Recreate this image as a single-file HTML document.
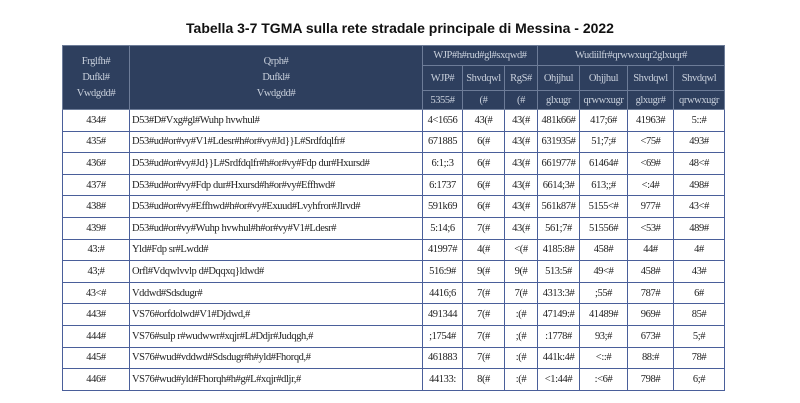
<!DOCTYPE html>
<html><head><meta charset="utf-8"><style>
body{margin:0;width:800px;height:403px;background:#fff;position:relative;overflow:hidden;font-family:"Liberation Serif",serif}
.t{position:absolute;left:0;width:800px;top:20px;text-align:center;font:bold 14px "Liberation Sans",sans-serif;color:#111}
table{position:absolute;left:62px;top:45px;border-collapse:collapse;table-layout:fixed;font-size:10.5px;letter-spacing:-0.4px}
td,th{border:1px solid #4a5f9a;padding:0 2px;overflow:hidden;white-space:nowrap;box-sizing:border-box}
td{height:21.6px}
th{background:#2e3f5e;color:#c9d0dc;font-weight:normal;border-color:#6d7c98}
tr.h1 th{height:20px}
tr.h2 th{height:25px}
tr.h3 th{height:19px}
td{color:#222;text-align:center}
td.l{text-align:left}
</style></head><body>
<div class="t">Tabella 3-7 TGMA sulla rete stradale principale di Messina - 2022</div>
<table>
<colgroup><col style="width:67px"><col style="width:293px"><col style="width:40px"><col style="width:42px"><col style="width:33px"><col style="width:42px"><col style="width:48px"><col style="width:46px"><col style="width:51px"></colgroup>
<tr class="h1"><th rowspan="3" style="line-height:16px">Frglfh#<br>Dufkl#<br>Vwdgdd#</th><th rowspan="3" style="line-height:16px">Qrph#<br>Dufkl#<br>Vwdgdd#</th><th colspan="3">WJP#h#rud#gl#sxqwd#</th><th colspan="4">Wudiilfr#qrwwxuqr2glxuqr#</th></tr>
<tr class="h2"><th>WJP#</th><th>Shvdqwl</th><th>RgS#</th><th>Ohjjhul</th><th>Ohjjhul</th><th>Shvdqwl</th><th>Shvdqwl</th></tr>
<tr class="h3"><th>5355#</th><th>(#</th><th>(#</th><th>glxugr</th><th>qrwwxugr</th><th>glxugr#</th><th>qrwwxugr</th></tr>
<tr><td>434#</td><td class="l">D53#D#Vxg#gl#Wuhp hvwhul#</td><td>4&lt;1656</td><td>43(#</td><td>43(#</td><td>481k66#</td><td>417;6#</td><td>41963#</td><td>5::#</td></tr>
<tr><td>435#</td><td class="l">D53#ud#or#vy#V1#Ldesr#h#or#vy#Jd}}L#Srdfdqlfr#</td><td>671885</td><td>6(#</td><td>43(#</td><td>631935#</td><td>51;7;#</td><td>&lt;75#</td><td>493#</td></tr>
<tr><td>436#</td><td class="l">D53#ud#or#vy#Jd}}L#Srdfdqlfr#h#or#vy#Fdp dur#Hxursd#</td><td>6:1;:3</td><td>6(#</td><td>43(#</td><td>661977#</td><td>61464#</td><td>&lt;69#</td><td>48&lt;#</td></tr>
<tr><td>437#</td><td class="l">D53#ud#or#vy#Fdp dur#Hxursd#h#or#vy#Effhwd#</td><td>6:1737</td><td>6(#</td><td>43(#</td><td>6614;3#</td><td>613;;#</td><td>&lt;:4#</td><td>498#</td></tr>
<tr><td>438#</td><td class="l">D53#ud#or#vy#Effhwd#h#or#vy#Exuud#Lvyhfror#Jlrvd#</td><td>591k69</td><td>6(#</td><td>43(#</td><td>561k87#</td><td>5155&lt;#</td><td>977#</td><td>43&lt;#</td></tr>
<tr><td>439#</td><td class="l">D53#ud#or#vy#Wuhp hvwhul#h#or#vy#V1#Ldesr#</td><td>5:14;6</td><td>7(#</td><td>43(#</td><td>561;7#</td><td>51556#</td><td>&lt;53#</td><td>489#</td></tr>
<tr><td>43:#</td><td class="l">Yld#Fdp sr#Lwdd#</td><td>41997#</td><td>4(#</td><td>&lt;(#</td><td>4185:8#</td><td>458#</td><td>44#</td><td>4#</td></tr>
<tr><td>43;#</td><td class="l">Orfl#Vdqwlvvlp d#Dqqxq}ldwd#</td><td>516:9#</td><td>9(#</td><td>9(#</td><td>513:5#</td><td>49&lt;#</td><td>458#</td><td>43#</td></tr>
<tr><td>43&lt;#</td><td class="l">Vddwd#Sdsdugr#</td><td>4416;6</td><td>7(#</td><td>7(#</td><td>4313:3#</td><td>;55#</td><td>787#</td><td>6#</td></tr>
<tr><td>443#</td><td class="l">VS76#orfdolwd#V1#Djdwd,#</td><td>491344</td><td>7(#</td><td>:(#</td><td>47149:#</td><td>41489#</td><td>969#</td><td>85#</td></tr>
<tr><td>444#</td><td class="l">VS76#sulp r#wudwwr#xqjr#L#Ddjr#Judqgh,#</td><td>;1754#</td><td>7(#</td><td>;(#</td><td>:1778#</td><td>93;#</td><td>673#</td><td>5;#</td></tr>
<tr><td>445#</td><td class="l">VS76#wud#vddwd#Sdsdugr#h#yld#Fhorqd,#</td><td>461883</td><td>7(#</td><td>:(#</td><td>441k:4#</td><td>&lt;::#</td><td>88:#</td><td>78#</td></tr>
<tr><td>446#</td><td class="l">VS76#wud#yld#Fhorqh#h#g#L#xqjr#dljr,#</td><td>44133:</td><td>8(#</td><td>:(#</td><td>&lt;1:44#</td><td>:&lt;6#</td><td>798#</td><td>6;#</td></tr>
</table>
</body></html>
